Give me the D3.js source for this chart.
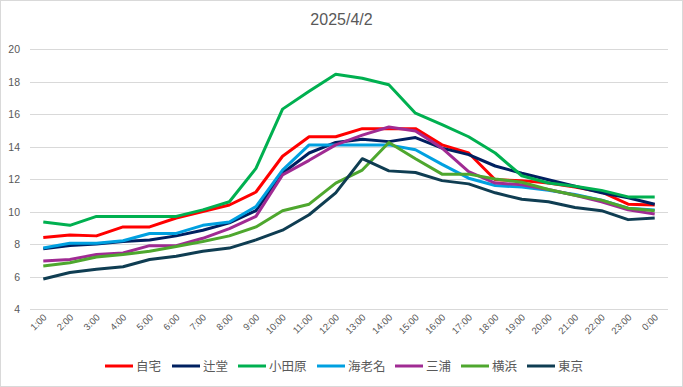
<!DOCTYPE html>
<html>
<head>
<meta charset="utf-8">
<script src="https://cdn.jsdelivr.net/npm/d3@7"></script>
<style>
  body { margin: 0; background: #fff; }
  text { font-family: "Liberation Sans", "Noto Sans CJK JP", sans-serif; }
</style>
</head>
<body>
<svg id="chart"></svg>
<script>
/* chart data */
var hours = ["1:00","2:00","3:00","4:00","5:00","6:00","7:00","8:00","9:00","10:00","11:00","12:00",
             "13:00","14:00","15:00","16:00","17:00","18:00","19:00","20:00","21:00","22:00","23:00","0:00"]

var names = ["自宅","辻堂","小田原","海老名","三浦","横浜","東京"]

var jitaku    = [8.4,8.55,8.5,9.05,9.05,9.6,10.0,10.4,11.2,13.4,14.6,14.6,15.1,15.1,15.1,14.1,13.6,11.95,11.9,11.75,11.5,11.2,10.45,10.4]
var tsujido   = [7.7,7.9,8.0,8.15,8.25,8.5,8.85,9.3,10.05,12.35,13.6,14.25,14.45,14.3,14.55,13.9,13.5,12.8,12.35,11.95,11.55,11.15,10.85,10.45]
var odawara   = [9.35,9.15,9.7,9.7,9.7,9.7,10.1,10.6,12.65,16.3,17.4,18.45,18.2,17.8,16.05,15.35,14.6,13.6,12.2,11.75,11.55,11.3,10.9,10.9]
var ebina     = [7.75,8.05,8.05,8.2,8.65,8.65,9.15,9.35,10.3,12.55,14.1,14.1,14.1,14.1,13.8,12.9,12.05,11.6,11.5,11.3,11.05,10.7,10.2,10.1]
var miura     = [6.95,7.05,7.35,7.45,7.9,7.9,8.35,8.95,9.7,12.25,13.15,14.1,14.7,15.2,14.95,13.9,12.45,11.75,11.65,11.35,11.0,10.6,10.1,9.85]
var yokohama  = [6.65,6.85,7.2,7.35,7.55,7.85,8.15,8.5,9.05,10.05,10.45,11.75,12.55,14.25,13.25,12.3,12.3,12.0,11.8,11.35,11.0,10.7,10.2,10.05]
var tokyo     = [5.85,6.25,6.45,6.6,7.05,7.25,7.55,7.75,8.25,8.85,9.8,11.15,13.25,12.5,12.4,11.9,11.7,11.15,10.75,10.6,10.25,10.05,9.5,9.6]

var colors = ["#FF0000","#002060","#00B050","#00A0E0","#A02B93","#4EA72E","#0F3D52"]
var yTicks = [4,6,8,10,12,14,16,18,20]

var seriesValues = [jitaku, tsujido, odawara, ebina, miura, yokohama, tokyo]

/* layout */
var width = 683, height = 387
var plot_left = 30, plot_right = 668, plot_top = 49, plot_bottom = 309

var svg = d3.select("#chart")
    .attr("width", width)
    .attr("height", height)

svg.append("rect")
    .attr("x", 0.5).attr("y", 0.5)
    .attr("width", width - 1).attr("height", height - 1)
    .attr("fill", "#fff")
    .attr("stroke", "#D9D9D9")

/* title */
svg.append("text")
    .attr("x", width / 2)
    .attr("y", 25)
    .attr("text-anchor", "middle")
    .attr("font-size", 16)
    .attr("fill", "#595959")
    .text("2025/4/2")

var x = d3.scalePoint()
    .domain(hours)
    .range([plot_left, plot_right])
    .padding(0.5)

var y = d3.scaleLinear()
    .domain([4, 20])
    .range([plot_bottom, plot_top])

/* gridlines */
svg.append("g")
    .selectAll("line")
    .data(yTicks)
    .enter()
    .append("line")
    .attr("x1", plot_left)
    .attr("x2", plot_right)
    .attr("y1", function(d) { return Math.round(y(d)) + 0.5 })
    .attr("y2", function(d) { return Math.round(y(d)) + 0.5 })
    .attr("stroke", "#D9D9D9")
    .attr("stroke-width", 1)

/* y axis labels */
svg.append("g")
    .selectAll("text")
    .data(yTicks)
    .enter()
    .append("text")
    .attr("x", 20)
    .attr("y", function(d) { return y(d) + 4 })
    .attr("text-anchor", "end")
    .attr("font-size", 10.5)
    .attr("fill", "#595959")
    .text(function(d) { return d })

/* x axis labels */
svg.append("g")
    .selectAll("text")
    .data(hours)
    .enter()
    .append("text")
    .attr("transform", function(d) { return "translate(" + (x(d) + 4) + "," + 318 + ") rotate(-45)" })
    .attr("text-anchor", "end")
    .attr("font-size", 9.5)
    .attr("fill", "#595959")
    .text(function(d) { return d })

/* lines */
var line = d3.line()
    .x(function(d, i) { return x(hours[i]) })
    .y(function(d) { return y(d) })

svg.append("g")
    .selectAll("path")
    .data(seriesValues)
    .enter()
    .append("path")
    .attr("d", line)
    .attr("fill", "none")
    .attr("stroke", function(d, i) { return colors[i] })
    .attr("stroke-width", 3)
    .attr("stroke-linejoin", "round")

/* legend */
var legend_x = [105, 172, 238, 317, 395, 461, 527]
var legend = svg.append("g")
    .selectAll("g")
    .data(names)
    .enter()
    .append("g")
    .attr("transform", function(d, i) { return "translate(" + legend_x[i] + ",366)" })

legend.append("line")
    .attr("x1", 0).attr("x2", 28)
    .attr("y1", 0).attr("y2", 0)
    .attr("stroke", function(d, i) { return colors[i] })
    .attr("stroke-width", 3)

legend.append("text")
    .attr("x", 31)
    .attr("y", 4.5)
    .attr("font-size", 12.5)
    .attr("fill", "#595959")
    .attr("font-family", "'Noto Sans CJK JP', sans-serif")
    .text(function(d) { return d })
</script>
</body>
</html>
